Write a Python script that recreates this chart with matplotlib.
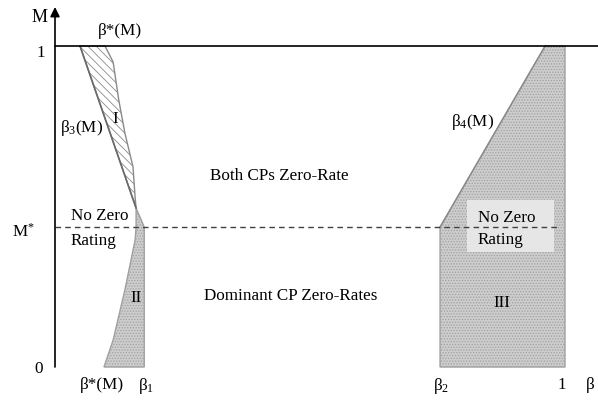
import numpy as np
import matplotlib
matplotlib.use("Agg")
import matplotlib.pyplot as plt
from matplotlib.patches import Polygon, Rectangle

plt.rcParams['font.family'] = ['Liberation Serif', 'DejaVu Serif']
plt.rcParams['mathtext.fontset'] = 'custom'
plt.rcParams['mathtext.rm'] = 'Liberation Serif'
plt.rcParams['mathtext.it'] = 'Liberation Serif'
plt.rcParams['hatch.linewidth'] = 0.6

# valores clave (unidades beta, M)
M_STAR = 0.436
BETA_1 = 0.175
BETA_2 = 0.755

# frontera beta*(M) rama superior (borde derecho de la region I)
m_upper = [1.0, 0.950, 0.832, 0.729, 0.623, 0.530, 0.495]
b_upper = [0.098, 0.114, 0.125, 0.137, 0.153, 0.157, 0.159]

# beta_3(M) (borde izquierdo de la region I)
m_beta3 = [1.0, 0.495]
b_beta3 = [0.049, 0.159]

# beta*(M) rama inferior (borde izquierdo de la region II)
m_lower = [0.495, 0.436, 0.395, 0.240, 0.084, 0.0]
b_lower = [0.159, 0.159, 0.157, 0.137, 0.114, 0.096]

# beta_4(M)
m_beta4 = [M_STAR, 1.0]
b_beta4 = [BETA_2, 0.961]


def px(x, y):
    """pixel de la imagen -> coordenadas (beta, M)"""
    return (x - 55) / 510, (367 - y) / 321


fig = plt.figure(figsize=(5.98, 4.0), dpi=100)
ax = fig.add_axes([0, 0, 1, 1])
x0, y0 = px(0, 400)
x1, y1 = px(598, 0)
ax.set_xlim(x0, x1)
ax.set_ylim(y0, y1)
ax.axis('off')

edge = '#8a8a8a'
fill = '#cdcdcd'

# Region I (rayado)
reg1 = list(zip(b_beta3, m_beta3)) + list(zip(b_upper[::-1], m_upper[::-1]))
ax.add_patch(Polygon(reg1, closed=True, facecolor='white', edgecolor=edge,
                     hatch='\\\\\\\\', linewidth=1.0, zorder=2))

# Region II (punteado)
reg2 = list(zip(b_lower, m_lower)) + [(BETA_1, 0.0), (BETA_1, M_STAR)]
ax.add_patch(Polygon(reg2, closed=True, facecolor=fill, edgecolor='#a0a0a0',
                     hatch='......', linewidth=1.0, zorder=2))

# Region III
reg3 = [(BETA_2, 0.0), (BETA_2, M_STAR), (b_beta4[1], 1.0), (1.0, 1.0), (1.0, 0.0)]
ax.add_patch(Polygon(reg3, closed=True, facecolor=fill, edgecolor='#a0a0a0',
                     hatch='......', linewidth=1.0, zorder=2))

# caja clara "No Zero Rating"
bx0, by0 = px(467, 252)
bx1, by1 = px(554, 200)
ax.add_patch(Rectangle((bx0, by0), bx1 - bx0, by1 - by0, facecolor='#e6e6e6',
                       edgecolor='none', zorder=3))

# lineas de frontera
ax.plot(b_beta3, m_beta3, color='#6a6a6a', lw=1.2, zorder=4)
ax.plot(b_beta4, m_beta4, color='#8a8a8a', lw=1.0, zorder=4)

# M = 1 y M*
ax.plot([0, x1], [1, 1], color='black', lw=1.2, zorder=5)
ax.plot([0, px(560, 0)[0]], [M_STAR, M_STAR], color='#404040', lw=1.0,
        ls=(0, (4, 3)), zorder=5)

# ejes con flecha
ax.annotate('', xy=(0, px(0, 7)[1]), xytext=(0, 0),
            arrowprops=dict(arrowstyle='-|>', color='black', lw=1.2,
                            mutation_scale=14, shrinkA=0, shrinkB=0), zorder=6)
ax.annotate('', xy=(px(606, 0)[0], 0), xytext=(0, 0),
            arrowprops=dict(arrowstyle='-|>', color='black', lw=1.2,
                            mutation_scale=14, shrinkA=0, shrinkB=0), zorder=6)

fs = 12.3


def label(x, y, s, **kw):
    bx, by = px(x, y)
    kw.setdefault('ha', 'center')
    ax.text(bx, by, s, va='center', fontsize=kw.pop('fontsize', fs), zorder=7, **kw)


label(40, 18, 'M', fontsize=13)
label(41, 53, '1')
label(23, 232, r'M$^{*}$')
label(39, 369, '0')
label(120, 31, 'β*(M)')
label(82, 128, 'β$_3$(M)')
label(115, 119, 'I')
label(71, 216, 'No Zero', ha='left')
label(71, 241, 'Rating', ha='left')
label(279, 176, 'Both CPs Zero-Rate')
label(291, 296, 'Dominant CP Zero-Rates')
label(136, 298, 'II')
label(502, 303, 'III')
label(473, 122, 'β$_4$(M)')
label(478, 218, 'No Zero', ha='left')
label(478, 240, 'Rating', ha='left')
label(102, 385, 'β*(M)')
label(146, 386, 'β$_1$')
label(441, 386, 'β$_2$')
label(562, 385, '1')
label(590, 385, 'β')

fig.savefig('out.png', dpi=100)
